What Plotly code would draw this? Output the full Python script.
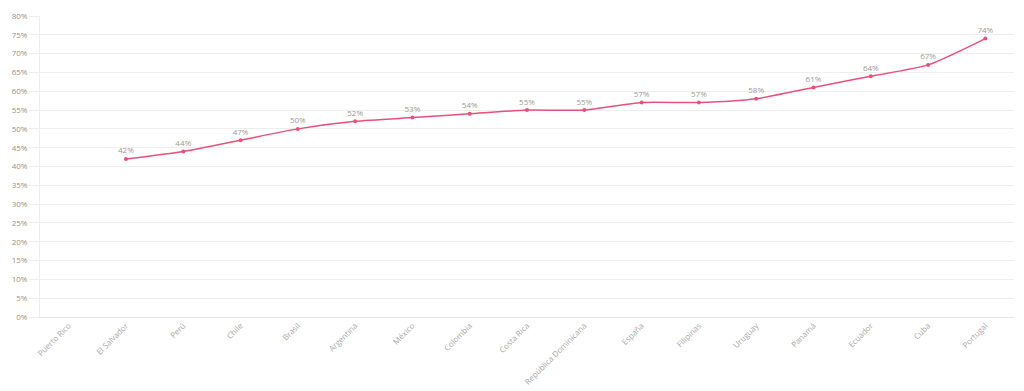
import plotly.graph_objects as go

countries = ["Puerto Rico", "El Salvador", "Perú", "Chile", "Brasil", "Argentina", "México",
             "Colombia", "Costa Rica", "República Dominicana", "España", "Filipinas", "Uruguay",
             "Panamá", "Ecuador", "Cuba", "Portugal"]
values = [None, 42, 44, 47, 50, 52, 53, 54, 55, 55, 57, 57, 58, 61, 64, 67, 74]
y_ticks = list(range(0, 81, 5))
y_tick_labels = [f"{v}%" for v in y_ticks]

labels = [f"{v}%" if v is not None else "" for v in values]

fig = go.Figure()
fig.add_trace(go.Scatter(
    x=countries, y=values, mode="lines+markers+text",
    line=dict(color="#e8507a", width=1.5, shape="spline", smoothing=0.6),
    marker=dict(color="#e8507a", size=4),
    text=labels, textposition="top center",
    textfont=dict(size=8, color="#a09a90", family="Open Sans"),
    connectgaps=False, cliponaxis=False, hoverinfo="skip",
))

fig.update_layout(
    width=1024, height=391,
    margin=dict(l=40, r=10, t=16, b=74),
    plot_bgcolor="white", paper_bgcolor="white",
    showlegend=False,
    font=dict(family="Open Sans", size=8, color="#a09080"),
)
fig.update_xaxes(
    type="category", range=[-0.5, len(countries) - 0.5],
    tickangle=-45, showgrid=False, automargin=False,
    showline=True, linecolor="#e6e6e6", linewidth=1,
    ticks="", tickfont=dict(size=8, color="#a8a8a8"),
    zeroline=False,
)
fig.update_yaxes(
    range=[0, 80], tickvals=y_ticks, ticktext=y_tick_labels,
    showgrid=True, gridcolor="#eeeeee", gridwidth=1, automargin=False,
    ticks="outside", ticklen=10, tickcolor="#eeeeee",
    showline=True, linecolor="#eeeeee", linewidth=1,
    tickfont=dict(size=8, color="#a09080"),
    zeroline=False,
)

fig.write_html("out.html", config={"displayModeBar": False},
               post_script="document.body.style.margin='0';document.body.style.overflow='hidden';")
